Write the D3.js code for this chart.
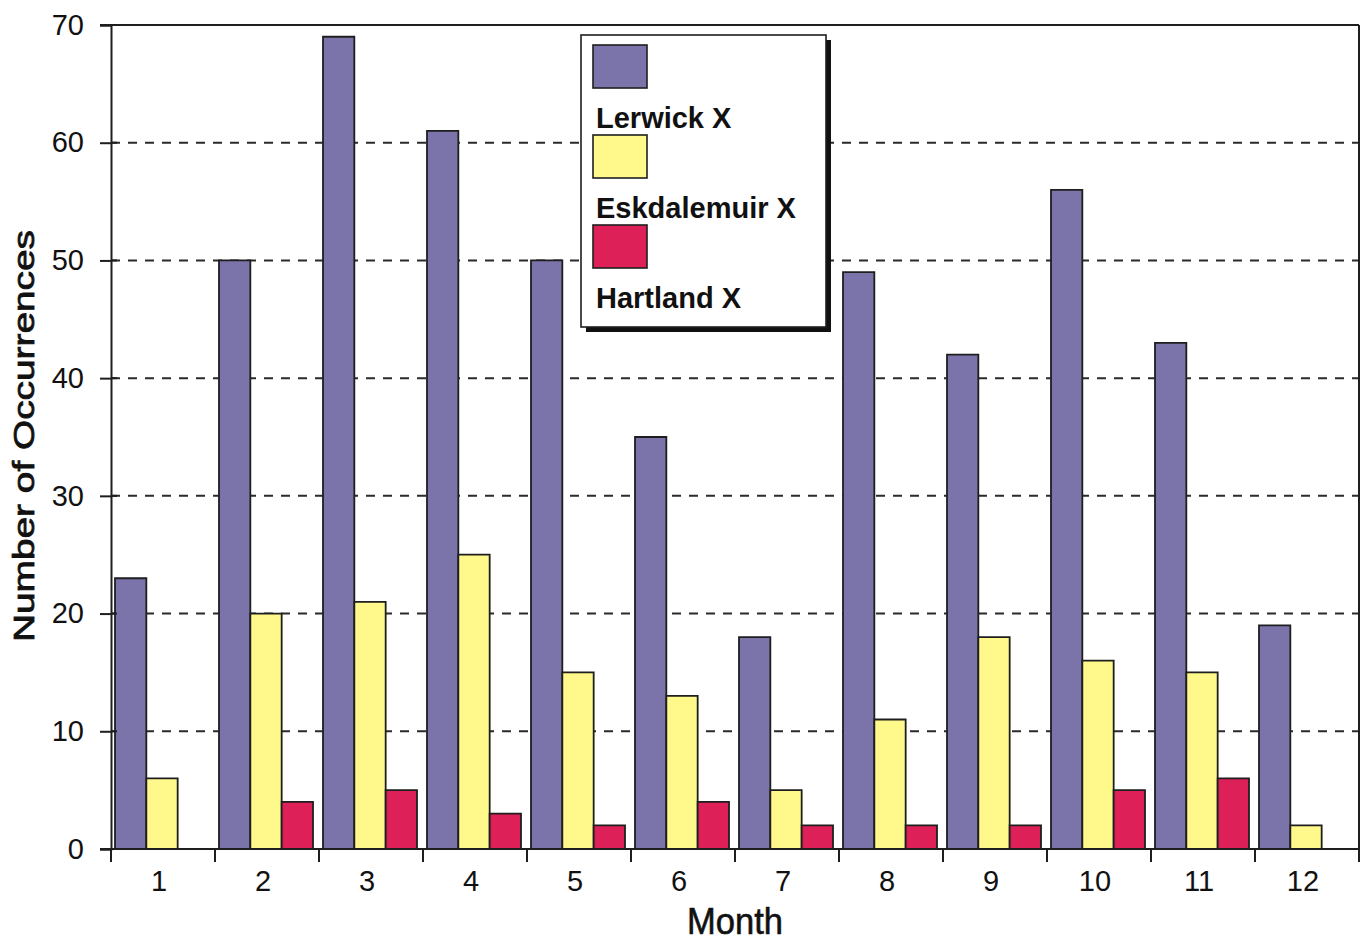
<!DOCTYPE html>
<html>
<head>
<meta charset="utf-8">
<script src="https://cdn.jsdelivr.net/npm/d3@7"></script>
<style>
  html, body { margin: 0; padding: 0; background: #fff; }
  svg { display: block; }
  text { font-family: "Liberation Sans", Arial, Helvetica, sans-serif; fill: #111; }
</style>
</head>
<body>
<svg id="chart" width="1367" height="945"></svg>
<script>
const months = ["1","2","3","4","5","6","7","8","9","10","11","12"];
const seriesNames = ["Lerwick X", "Eskdalemuir X", "Hartland X"];
const lerwick = [23, 50, 69, 61, 50, 35, 18, 49, 42, 56, 43, 19];
const eskdalemuir = [6, 20, 21, 25, 15, 13, 5, 11, 18, 16, 15, 2];
const hartland = [0, 4, 5, 3, 2, 4, 2, 2, 2, 5, 6, 0];
const seriesColors = ["#7b74ab", "#fff98c", "#dd2057"];
const yTicks = [0, 10, 20, 30, 40, 50, 60, 70];
const yTitle = "Number of Occurrences";
const xTitle = "Month";

(function () {
const seriesValues = [lerwick, eskdalemuir, hartland];

const svg = d3.select("#chart");
const pLeft = 111, pRight = 1359, pTop = 25, pBottom = 849;
const ink = "#1e1e1e";

const x = d3.scaleBand().domain(months).range([pLeft, pRight]).paddingInner(0).paddingOuter(0);
const x1 = d3.scaleBand().domain(d3.range(seriesNames.length)).range([4, 98]).padding(0);
const y = d3.scaleLinear().domain([0, 70]).range([pBottom, pTop]);

// gridlines
svg.append("g").selectAll("line")
  .data(yTicks.filter(t => t > 0 && t < 70))
  .join("line")
  .attr("x1", pLeft).attr("x2", pRight)
  .attr("y1", d => y(d)).attr("y2", d => y(d))
  .attr("stroke", "#2a2a2a").attr("stroke-width", 2)
  .attr("stroke-dasharray", "9,8");

// bars
const barsG = svg.append("g");
months.forEach((m, i) => {
  seriesValues.forEach((vals, s) => {
    const x0 = x(m) + x1(s);
    const w = x1.bandwidth();
    const p = d3.path();
    p.moveTo(x0, y(0));
    p.lineTo(x0, y(vals[i]));
    p.lineTo(x0 + w, y(vals[i]));
    p.lineTo(x0 + w, y(0));
    p.closePath();
    barsG.append("path")
      .attr("d", p.toString())
      .attr("fill", seriesColors[s])
      .attr("stroke", ink)
      .attr("stroke-width", 1.8)
      .attr("stroke-linejoin", "miter");
  });
});

// frame: top and right
svg.append("line").attr("x1", 100).attr("x2", pRight).attr("y1", pTop).attr("y2", pTop)
  .attr("stroke", ink).attr("stroke-width", 2);
svg.append("line").attr("x1", pRight).attr("x2", pRight).attr("y1", pTop).attr("y2", pBottom)
  .attr("stroke", ink).attr("stroke-width", 2);

// y axis
const yAxis = d3.axisLeft(y).tickValues(yTicks).tickSize(11).tickPadding(16).tickFormat(d3.format("d"));
const yg = svg.append("g").attr("transform", `translate(${pLeft},0)`).call(yAxis);
yg.select(".domain").attr("stroke", ink).attr("stroke-width", 2);
yg.selectAll(".tick line").attr("stroke", ink).attr("stroke-width", 2);
yg.selectAll(".tick text").attr("font-size", 29).attr("font-family", "Liberation Sans, Arial, sans-serif").attr("fill", "#111");
svg.append("g").selectAll("line").data(yTicks).join("line")
  .attr("x1", pLeft).attr("x2", pLeft + 6).attr("y1", d => y(d)).attr("y2", d => y(d))
  .attr("stroke", ink).attr("stroke-width", 2);

// x axis baseline
svg.append("line").attr("x1", 100).attr("x2", pRight).attr("y1", pBottom).attr("y2", pBottom)
  .attr("stroke", ink).attr("stroke-width", 2);
const bounds = months.map(m => x(m)).concat([pRight]);
svg.append("g").selectAll("line").data(bounds).join("line")
  .attr("x1", d => d).attr("x2", d => d).attr("y1", pBottom).attr("y2", pBottom + 13)
  .attr("stroke", ink).attr("stroke-width", 2);
svg.append("g").selectAll("text").data(months).join("text")
  .attr("x", d => x(d) + x.bandwidth() / 2 - 4)
  .attr("y", 891)
  .attr("text-anchor", "middle")
  .attr("font-size", 29)
  .text(d => d);

// axis titles
svg.append("text")
  .attr("x", 735).attr("y", 934)
  .attr("text-anchor", "middle")
  .attr("font-size", 36)
  .attr("stroke", "#111").attr("stroke-width", 0.6)
  .attr("textLength", 96).attr("lengthAdjust", "spacingAndGlyphs")
  .text(xTitle);

svg.append("text")
  .attr("transform", "translate(34,436) rotate(-90)")
  .attr("text-anchor", "middle")
  .attr("font-size", 30)
  .attr("stroke", "#111").attr("stroke-width", 0.8)
  .attr("textLength", 412).attr("lengthAdjust", "spacingAndGlyphs")
  .text(yTitle);

// legend
const lg = svg.append("g");
lg.append("rect").attr("x", 586).attr("y", 40).attr("width", 245).attr("height", 292).attr("fill", "#111");
lg.append("rect").attr("x", 581).attr("y", 35).attr("width", 245).attr("height", 292)
  .attr("fill", "#fff").attr("stroke", ink).attr("stroke-width", 1.6);
const swY = [45, 135, 225];
const txtY = [128, 218, 308];
seriesNames.forEach((name, s) => {
  lg.append("rect").attr("x", 593).attr("y", swY[s]).attr("width", 54).attr("height", 43)
    .attr("fill", seriesColors[s]).attr("stroke", ink).attr("stroke-width", 1.6);
  lg.append("text").attr("x", 596).attr("y", txtY[s])
    .attr("font-size", 29).attr("font-weight", "bold")
    .text(name);
});
})();
</script>
</body>
</html>
